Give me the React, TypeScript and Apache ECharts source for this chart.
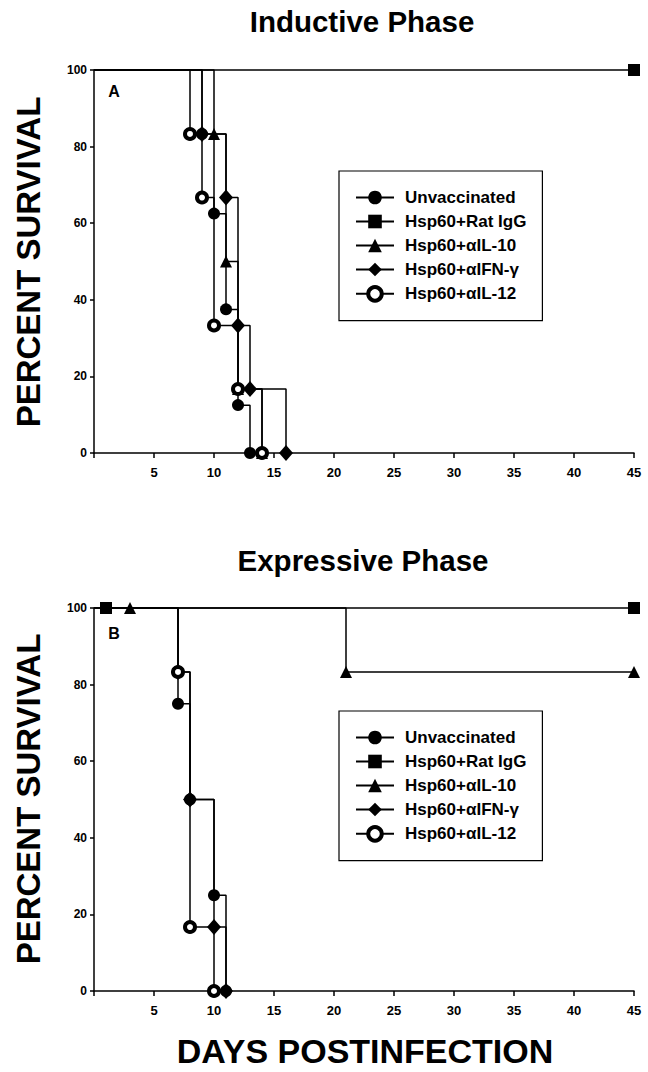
import React, { useEffect, useRef } from "react";
import * as echarts from "echarts";

const FONT = 'Arial, "Liberation Sans", Helvetica, sans-serif';

const seriesNames = [
  "Unvaccinated",
  "Hsp60+Rat IgG",
  "Hsp60+\u03b1IL-10",
  "Hsp60+\u03b1IFN-\u03b3",
  "Hsp60+\u03b1IL-12",
];

const xTicks = [5, 10, 15, 20, 25, 30, 35, 40, 45];
const yTicks = [0, 20, 40, 60, 80, 100];

// Panel A — Inductive Phase (day, percent survival)
const daysA_unvacc = [0, 9, 10, 11, 12, 13];
const survA_unvacc = [100, 83.3, 62.5, 37.5, 12.5, 0];
const daysA_ratIgG = [0, 45];
const survA_ratIgG = [100, 100];
const daysA_il10 = [0, 10, 11, 12, 14];
const survA_il10 = [100, 83.3, 50, 16.7, 0];
const daysA_ifn = [0, 9, 11, 12, 13, 16];
const survA_ifn = [100, 83.3, 66.7, 33.3, 16.7, 0];
const daysA_il12 = [0, 8, 9, 10, 12, 14];
const survA_il12 = [100, 83.3, 66.7, 33.3, 16.7, 0];

// Panel B — Expressive Phase
const daysB_unvacc = [0, 7, 8, 10, 11];
const survB_unvacc = [100, 75, 50, 25, 0];
const daysB_ratIgG = [1, 45];
const survB_ratIgG = [100, 100];
const daysB_il10 = [3, 21, 45];
const survB_il10 = [100, 83.3, 83.3];
const daysB_ifn = [0, 7, 8, 10, 11];
const survB_ifn = [100, 83.3, 50, 16.7, 0];
const daysB_il12 = [0, 7, 8, 10];
const survB_il12 = [100, 83.3, 16.7, 0];

const symbolStyles: any[] = [
  { symbol: "circle", symbolSize: 12, itemStyle: { color: "#000" } },
  { symbol: "rect", symbolSize: 12, itemStyle: { color: "#000" } },
  { symbol: "triangle", symbolSize: [12, 12], itemStyle: { color: "#000" } },
  { symbol: "diamond", symbolSize: [14, 16], itemStyle: { color: "#000" } },
  {
    symbol: "circle",
    symbolSize: 10,
    itemStyle: { color: "#fff", borderColor: "#000", borderWidth: 4 },
  },
];

function mk(idx: number, grid: number, days: number[], surv: number[]) {
  const st = symbolStyles[idx];
  return {
    type: "line",
    name: seriesNames[idx],
    xAxisIndex: grid,
    yAxisIndex: grid,
    step: "end",
    clip: false,
    symbol: st.symbol,
    symbolSize: st.symbolSize,
    itemStyle: st.itemStyle,
    lineStyle: { color: "#000", width: 1.5 },
    showAllSymbol: true,
    data: days.map((d, i) => {
      const item: any = { value: [d, surv[i]] };
      if (d === 0) item.symbol = "none";
      return item;
    }),
  };
}

function axisX(grid: number) {
  return {
    type: "value",
    gridIndex: grid,
    min: 0,
    max: 45,
    interval: 5,
    axisLine: { show: true, lineStyle: { color: "#000", width: 1.5 } },
    axisTick: { show: true, length: 5, lineStyle: { color: "#000", width: 1.5 } },
    axisLabel: {
      formatter: (v: number) => (xTicks.includes(v) ? String(v) : ""),
      fontSize: 13,
      fontWeight: "bold",
      color: "#000",
      fontFamily: FONT,
      margin: 13,
    },
    splitLine: { show: false },
  };
}

function axisY(grid: number) {
  return {
    type: "value",
    gridIndex: grid,
    min: 0,
    max: 100,
    interval: 20,
    axisLine: { show: true, lineStyle: { color: "#000", width: 1.5 } },
    axisTick: { show: true, length: 4, lineStyle: { color: "#000", width: 1.5 } },
    axisLabel: {
      formatter: (v: number) => (yTicks.includes(v) ? String(v) : ""),
      fontSize: 12,
      fontWeight: "bold",
      color: "#000",
      fontFamily: FONT,
      margin: 7,
    },
    splitLine: { show: false },
  };
}

function legend(top: number) {
  return {
    orient: "vertical",
    left: 339,
    top,
    itemWidth: 38,
    itemHeight: 17,
    itemGap: 7,
    padding: [18, 16, 18, 16],
    borderColor: "#000",
    borderWidth: 1.2,
    selectedMode: false,
    data: seriesNames.map((n, i) =>
      i === 4
        ? { name: n, itemStyle: { color: "#fff", borderColor: "#000", borderWidth: 4 } }
        : { name: n }
    ),
    textStyle: {
      fontSize: 17,
      fontWeight: "bold",
      color: "#000",
      fontFamily: FONT,
      padding: [0, 0, 0, 6],
    },
  };
}

function txt(text: string, x: number, y: number, size: number, rotation = 0) {
  return {
    type: "text",
    x,
    y,
    rotation,
    style: {
      text,
      fill: "#000",
      font: `bold ${size}px ${FONT}`,
      align: "center",
      verticalAlign: "middle",
      textAlign: "center",
      textVerticalAlign: "middle",
    },
  };
}

export default function App() {
  const ref = useRef<HTMLDivElement>(null);
  useEffect(() => {
    if (!ref.current) return;
    const chart = echarts.init(ref.current, null, { renderer: "svg" });
    chart.setOption({
      animation: false,
      backgroundColor: "#fff",
      grid: [
        { left: 94, top: 70, width: 540, height: 383 },
        { left: 94, top: 608, width: 540, height: 383 },
      ],
      xAxis: [axisX(0), axisX(1)],
      yAxis: [axisY(0), axisY(1)],
      legend: [legend(171), legend(711)],
      graphic: [
        txt("Inductive Phase", 362, 21, 29.5),
        txt("Expressive Phase", 363, 560, 29.5),
        txt("PERCENT SURVIVAL", 28, 262, 33, Math.PI / 2),
        txt("PERCENT SURVIVAL", 28, 799, 33, Math.PI / 2),
        txt("DAYS POSTINFECTION", 365, 1051, 34),
        txt("A", 114, 91, 16),
        txt("B", 114, 633, 16),
      ],
      series: [
        mk(0, 0, daysA_unvacc, survA_unvacc),
        mk(1, 0, daysA_ratIgG, survA_ratIgG),
        mk(2, 0, daysA_il10, survA_il10),
        mk(3, 0, daysA_ifn, survA_ifn),
        mk(4, 0, daysA_il12, survA_il12),
        mk(0, 1, daysB_unvacc, survB_unvacc),
        mk(1, 1, daysB_ratIgG, survB_ratIgG),
        mk(2, 1, daysB_il10, survB_il10),
        mk(3, 1, daysB_ifn, survB_ifn),
        mk(4, 1, daysB_il12, survB_il12),
      ],
    });
    return () => chart.dispose();
  }, []);
  return (
    <div
      ref={ref}
      style={{ position: "absolute", left: 0, top: 0, width: 648, height: 1072 }}
    />
  );
}
